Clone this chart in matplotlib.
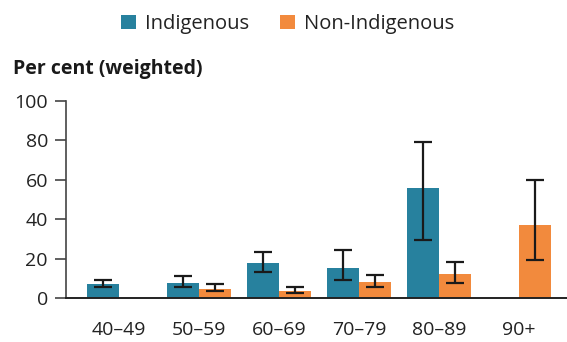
import numpy as np
import matplotlib.pyplot as plt

plt.rcParams['font.family'] = ['Open Sans', 'DejaVu Sans']

categories = ['40–49', '50–59', '60–69', '70–79', '80–89', '90+']
indig = [7.2, 7.6, 17.8, 15.2, 55.8, np.nan]
indig_lo = [5.4, 5.4, 13.0, 9.3, 29.6, np.nan]
indig_hi = [9.1, 11.2, 23.5, 24.2, 79.2, np.nan]
non_indig = [np.nan, 4.6, 3.5, 8.1, 12.2, 37.1]
non_lo = [np.nan, 3.4, 2.7, 5.6, 7.8, 19.1]
non_hi = [np.nan, 7.1, 5.6, 11.7, 18.3, 59.9]

teal = '#27819e'
orange = '#f28a3d'

fig = plt.figure(figsize=(5.67, 3.42), dpi=100)
ax = fig.add_axes([66 / 567, 44 / 342, 1 - 66 / 567, 197 / 342])

x = np.arange(len(categories))
w = 0.4

def yerr(v, lo, hi):
    v, lo, hi = np.array(v), np.array(lo), np.array(hi)
    return np.vstack([v - lo, hi - v])

err_kw = dict(ecolor='#1a1a1a', elinewidth=1.6, capsize=6.8, capthick=1.6)
b1 = ax.bar(x - w / 2, indig, w, color=teal, yerr=yerr(indig, indig_lo, indig_hi),
            error_kw=err_kw, label='Indigenous')
b2 = ax.bar(x + w / 2, non_indig, w, color=orange, yerr=yerr(non_indig, non_lo, non_hi),
            error_kw=err_kw, label='Non-Indigenous')

ax.set_xlim(-0.66, 5.6)
ax.set_ylim(0, 100)
ax.set_yticks(range(0, 101, 20))
ax.set_xticks(x)
ax.set_xticklabels(categories)
ax.tick_params(axis='y', length=8, width=1.2, color='#444444', labelsize=14,
               labelcolor='#222222', pad=5)
ax.tick_params(axis='x', length=0, labelsize=14, labelcolor='#222222', pad=16.5)
for s in ['top', 'right']:
    ax.spines[s].set_visible(False)
ax.spines['left'].set_color('#444444')
ax.spines['left'].set_linewidth(1.2)
ax.spines['bottom'].set_color('#222222')
ax.spines['bottom'].set_linewidth(1.4)

fig.text(13 / 567, 1 - 69 / 342, 'Per cent (weighted)', fontsize=14, fontweight='bold',
         color='#1a1a1a', va='center', ha='left')

fig.legend(handles=[b1, b2], labels=['Indigenous', 'Non-Indigenous'], loc='center',
           bbox_to_anchor=(0.507, 1 - 24 / 342), ncol=2, frameon=False, fontsize=14.5,
           handlelength=0.75, handleheight=0.75, handletextpad=0.45, columnspacing=1.5,
           labelcolor='#222222')

fig.savefig('out.png', dpi=100)
